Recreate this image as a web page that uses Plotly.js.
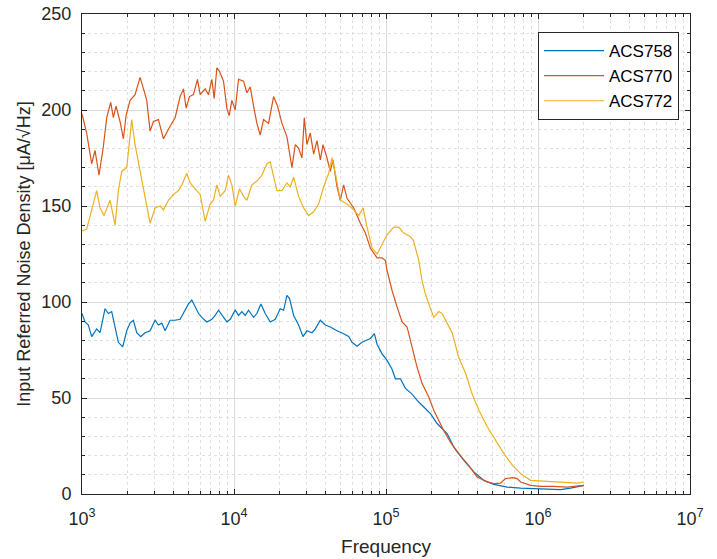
<!DOCTYPE html>
<html><head><meta charset="utf-8">
<script src="https://cdn.plot.ly/plotly-3.0.1.min.js"></script>
<style>html,body{margin:0;padding:0;background:#fff}</style>
</head><body><div id="chart" style="width:717px;height:559px"></div>
<script>
// ACS758 (blue)
const freq758 = [1000,1047,1101,1158,1249,1314,1418,1491,1568,1650,1735,1853,1969,2071,2178,2292,2435,2600,2805,3026,3183,3348,3521,3799,4098,4421,4651,5017,5278,5552,5839,6142,6626,7148,7518,7908,8318,8974,9439,10183,10712,11267,11851,12466,13448,14145,15030,16050,17316,18680,20153,21198,22298,23216,24670,26613,28420,30198,32581,34271,36974,39885,43030,47610,52680,56830,59780,64490,69570,75040,78930,83860,87330,94200,101600,109600,115300,
  124390,134200,148470,160170,177210,196080,216940,234040,252480,279350,325140,378450,440500,512600,627700,768700,941000,1151000,1409000,1639000,1906000,2000000];
const acs758 = [94,89.6,88,82,86,84,96.5,94,95,86,79,76.6,85,89,90.5,84,82,84,85,90.5,88,89,85,90.5,90.5,91,94,99,101,97.4,94,92,89.6,91,93,95.7,93,89.6,91,95.7,93,95,93,95.7,92,94,99,94,89.6,91,96.5,95.7,103.5,101.8,93,88,82,85,84,86,90.5,88,87,85,83.5,82,79,77,79,80,81,83.5,78,73,69.6,65,60,
  60,55,52,48.8,45.3,41.9,36.7,34,31.5,24.5,17.5,11.5,7.1,5,3.6,3.1,2.8,2.6,2.3,3.1,4,4.5];

// ACS770 (red)
const freq770 = [1000,1073,1158,1218,1294,1382,1454,1545,1608,1675,1780,1872,1949,2071,2234,2410,2561,2667,2805,2951,3183,3434,3704,4098,4421,4651,4843,5094,5413,5752,5989,6461,6796,7148,7405,7711,8030,8531,8974,9297,9681,10183,10712,11555,12154,12785,13448,14145,14879,15650,16883,18214,19353,20667,22298,24054,25302,26613,27993,29002,30198,31766,33415,35149,36974,38498,40907,43030,44806,47610,50080,52680,55410,61310,67830,73170,78930,87330,94200,
  99070,101600,109600,118270,127580,137640,148470,160170,172790,191180,206250,222500,240030,265570,293830,342020,398100,463400,512600,567200,612000,677400,730800,768700,894600,1041000,1273000,1558000,1906000,2000000];
const acs770 = [198,188,172,179,166,181,196,204,196,202,194,185,197,205,208,217,210,205,189,194,195,185,190,196,207,211,201,207,208,216,208,211,208,216,206,222,220,215,201,197,205,200,216,215,209,212,202,193,187,195,193,207,202,193,186,170,182,180,175,196,182,188,177,184,174,182,175,168,174,160,153,161,154,149,141,136,128,123,123,
  121.6,116.5,106,97.4,89.6,87,76.6,66,57.5,50.5,43.6,38.4,33,27,21.9,15.8,8.9,6.25,5.4,5.7,8,8.5,8,6.25,4.5,4,4,3.6,4.4,4.2];

// ACS772 (yellow)
const freq772 = [1000,1073,1158,1249,1314,1396,1529,1650,1735,1825,1969,2050,2124,2234,2386,2535,2640,2805,3026,3265,3434,3704,3996,4311,4535,4892,5146,5552,5989,6461,6970,7331,7711,8111,8750,9204,9681,10183,10875,11555,12154,13112,14145,15259,16462,17316,18214,19159,20667,22298,23452,24670,26613,28709,30972,33415,36050,38889,41955,44130,46420,50080,55410,61310,66140,70630,75040,80950,87330,94200,101600,112400,121300,
  130200,144800,151500,164270,172790,181760,191180,206250,222500,234040,252480,272370,301360,333470,369000,408300,463400,525800,596700,677400,768700,894600,1041000,1273000,1558000,1813000,2000000];
const acs772 = [137,138,148,158,149,145,153,140,158,168,170,184,195,182,170,160,151,141,149,150,148,153,156,158,161,167,162,159,156,142,151,153,161,155,158,166,161,150,159,155,153,161,163,166,172,173,165,158,158,162,160,165,155,149,145,147,151,160,167,175,167,153,151,148,145,149,139,128,125,130,135,139,139,
  136,134,132,121.7,111,104,99,92,95,94,89,84,71,63,52,43.6,35,28,21,15,10.6,7.1,6.8,6.25,5.7,5.7,6.25];

const seriesNames = ['ACS758','ACS770','ACS772'];
const seriesColors = ['#0072BD','#D95319','#EDB120'];
const xTickVals = [1e3,1e4,1e5,1e6,1e7];
const xTickText = ['10<sup>3</sup>','10<sup>4</sup>','10<sup>5</sup>','10<sup>6</sup>','10<sup>7</sup>'];

const minorX = [];
for (let d = 3; d <= 6; d++) for (let m = 2; m <= 9; m++) minorX.push(m * Math.pow(10, d));

const xs = [freq758, freq770, freq772];
const ys = [acs758, acs770, acs772];
const traces = seriesNames.map((n, i) => ({
  type: 'scatter', mode: 'lines', name: n, x: xs[i], y: ys[i],
  line: {color: seriesColors[i], width: 1.2}
}));

const FONT = 'Liberation Sans, Arial, Helvetica, sans-serif';
const axisCommon = {
  showline: true, linecolor: '#262626', linewidth: 1, mirror: 'allticks',
  ticks: 'inside', ticklen: 5, tickcolor: '#262626', tickwidth: 1,
  showgrid: true, gridcolor: '#dcdcdc', gridwidth: 1, zeroline: false,
  tickfont: {family: FONT, size: 18, color: '#262626'}
};

const layout = {
  width: 717, height: 559,
  margin: {l: 82, r: 27, t: 14, b: 65},
  paper_bgcolor: '#fff', plot_bgcolor: '#fff',
  showlegend: true,
  legend: {x: 0.75, y: 0.9625, xanchor: 'left', yanchor: 'top',
    bgcolor: '#fff', bordercolor: '#262626', borderwidth: 1,
    font: {family: FONT, size: 17, color: '#000'}, itemwidth: 60},
  xaxis: Object.assign({}, axisCommon, {
    type: 'log', range: [3, 7], tickvals: xTickVals, ticktext: xTickText,
    ticklabelstandoff: 8,
    minor: {tickvals: minorX, ticks: 'inside', ticklen: 3, tickcolor: '#262626',
      showgrid: true, gridcolor: '#e0e0e0', griddash: 'dot', gridwidth: 1},
    title: {text: 'Frequency', font: {family: FONT, size: 19, color: '#262626'}, standoff: 12}
  }),
  yaxis: Object.assign({}, axisCommon, {
    range: [0, 250], dtick: 50, tick0: 0, ticklabelstandoff: 6,
    minor: {dtick: 10, ticks: 'inside', ticklen: 3, tickcolor: '#262626',
      showgrid: true, gridcolor: '#e0e0e0', griddash: 'dot', gridwidth: 1},
    title: {text: 'Input Referred Noise Density [μA/√Hz]', font: {family: FONT, size: 18, color: '#262626'}, standoff: 6}
  })
};

Plotly.newPlot('chart', traces, layout, {staticPlot: true, displayModeBar: false});
</script></body></html>
